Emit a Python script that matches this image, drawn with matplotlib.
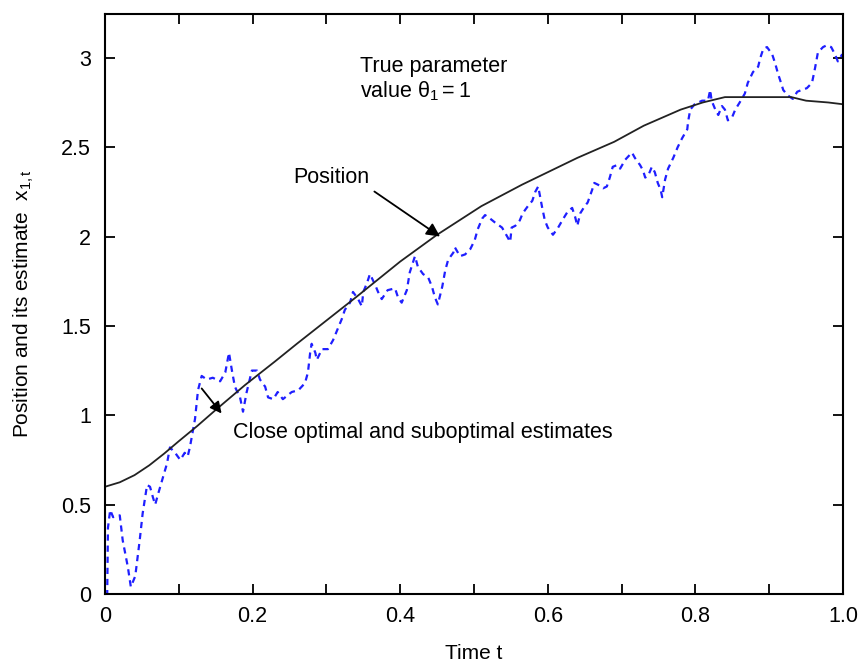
import matplotlib
matplotlib.use("Agg")
import matplotlib.pyplot as plt
from matplotlib import font_manager

# ---- data ----
pos_t = [0, 0.02, 0.04, 0.06, 0.08, 0.10, 0.125, 0.15, 0.19, 0.23, 0.26, 0.30, 0.34,
         0.37, 0.40, 0.45, 0.51, 0.565, 0.60, 0.64, 0.69, 0.73, 0.78, 0.81, 0.84,
         0.93, 0.95, 0.98, 1.0]
pos_x = [0.60, 0.625, 0.665, 0.72, 0.785, 0.855, 0.94, 1.03, 1.17, 1.30, 1.40, 1.53, 1.66,
         1.76, 1.86, 2.01, 2.17, 2.29, 2.36, 2.44, 2.53, 2.62, 2.71, 2.75, 2.78,
         2.78, 2.76, 2.75, 2.74]

est_t = [0, 0.003, 0.004, 0.007, 0.011, 0.020, 0.024, 0.031, 0.035, 0.041, 0.047, 0.051,
         0.057, 0.061, 0.065, 0.068, 0.072, 0.077, 0.084, 0.088, 0.095, 0.102, 0.108, 0.112,
         0.115, 0.122, 0.126, 0.131, 0.138, 0.146, 0.156, 0.163, 0.168, 0.172, 0.176, 0.183,
         0.187, 0.192, 0.199, 0.206, 0.210, 0.217, 0.221, 0.228, 0.234, 0.241, 0.253, 0.262,
         0.271, 0.275, 0.278, 0.280, 0.285, 0.287, 0.294, 0.302, 0.309, 0.316, 0.321, 0.325,
         0.332, 0.336, 0.343, 0.348, 0.350, 0.355, 0.359, 0.366, 0.370, 0.375, 0.383, 0.393,
         0.397, 0.402, 0.409, 0.413, 0.420, 0.424, 0.431, 0.438, 0.443, 0.447, 0.451, 0.457,
         0.461, 0.465, 0.472, 0.474, 0.481, 0.488, 0.495, 0.501, 0.505, 0.511, 0.515, 0.522,
         0.528, 0.538, 0.545, 0.549, 0.551, 0.556, 0.562, 0.566, 0.573, 0.579, 0.583, 0.587,
         0.592, 0.596, 0.600, 0.607, 0.614, 0.621, 0.627, 0.633, 0.637, 0.640, 0.644, 0.650,
         0.654, 0.660, 0.663, 0.668, 0.675, 0.680, 0.684, 0.688, 0.694, 0.698, 0.705, 0.714,
         0.718, 0.725, 0.729, 0.732, 0.736, 0.741, 0.745, 0.749, 0.753, 0.755, 0.759, 0.763,
         0.770, 0.776, 0.782, 0.789, 0.790, 0.793, 0.799, 0.809, 0.817, 0.820, 0.822, 0.827,
         0.831, 0.836, 0.840, 0.844, 0.850, 0.854, 0.860, 0.867, 0.871, 0.878, 0.885, 0.888,
         0.892, 0.897, 0.904, 0.908, 0.912, 0.916, 0.919, 0.925, 0.932, 0.938, 0.944, 0.951,
         0.958, 0.962, 0.966, 0.973, 0.978, 0.984, 0.989, 0.993, 0.999]
est_x = [0.00, 0.00, 0.37, 0.47, 0.43, 0.44, 0.30, 0.15, 0.04, 0.10, 0.30, 0.45,
         0.61, 0.60, 0.54, 0.50, 0.56, 0.63, 0.73, 0.82, 0.79, 0.75, 0.79, 0.77,
         0.82, 0.98, 1.14, 1.22, 1.20, 1.21, 1.19, 1.24, 1.35, 1.25, 1.16, 1.10,
         1.02, 1.13, 1.25, 1.25, 1.20, 1.16, 1.10, 1.09, 1.13, 1.09, 1.13, 1.14,
         1.18, 1.24, 1.35, 1.40, 1.35, 1.31, 1.37, 1.37, 1.42, 1.49, 1.54, 1.59,
         1.63, 1.69, 1.65, 1.61, 1.69, 1.74, 1.79, 1.73, 1.69, 1.65, 1.70, 1.71,
         1.66, 1.63, 1.70, 1.80, 1.89, 1.83, 1.79, 1.77, 1.72, 1.66, 1.62, 1.72,
         1.81, 1.87, 1.91, 1.94, 1.89, 1.90, 1.93, 1.98, 2.04, 2.10, 2.12, 2.10,
         2.08, 2.05, 2.00, 1.97, 2.05, 2.06, 2.09, 2.13, 2.17, 2.20, 2.25, 2.28,
         2.17, 2.09, 2.05, 2.01, 2.05, 2.10, 2.14, 2.16, 2.11, 2.06, 2.13, 2.17,
         2.19, 2.26, 2.30, 2.29, 2.27, 2.28, 2.33, 2.39, 2.40, 2.38, 2.43, 2.47,
         2.44, 2.40, 2.37, 2.33, 2.34, 2.39, 2.36, 2.30, 2.26, 2.22, 2.32, 2.38,
         2.44, 2.50, 2.55, 2.60, 2.64, 2.71, 2.74, 2.76, 2.76, 2.82, 2.76, 2.71,
         2.68, 2.73, 2.71, 2.65, 2.67, 2.71, 2.75, 2.80, 2.86, 2.92, 2.95, 3.00,
         3.05, 3.06, 3.02, 2.97, 2.91, 2.86, 2.82, 2.79, 2.77, 2.81, 2.82, 2.83,
         2.86, 2.94, 3.03, 3.06, 3.07, 3.06, 3.02, 2.98, 3.02]

xticks = [0, 0.1, 0.2, 0.3, 0.4, 0.5, 0.6, 0.7, 0.8, 0.9, 1.0]
xticklabels = ["0", "", "0.2", "", "0.4", "", "0.6", "", "0.8", "", "1.0"]
yticks = [0, 0.5, 1, 1.5, 2, 2.5, 3]
yticklabels = ["0", "0.5", "1", "1.5", "2", "2.5", "3"]

# ---- fonts ----
names = {f.name for f in font_manager.fontManager.ttflist}
base = "Liberation Sans" if "Liberation Sans" in names else "DejaVu Sans"
narrow = "Liberation Sans Narrow" if "Liberation Sans Narrow" in names else base
plt.rcParams["font.family"] = [base, "DejaVu Sans"]
plt.rcParams["mathtext.fontset"] = "custom"
plt.rcParams["mathtext.rm"] = base
plt.rcParams["mathtext.it"] = base
plt.rcParams["mathtext.bf"] = base

fig = plt.figure(figsize=(8.59, 6.66), dpi=100)
ax = fig.add_axes([105 / 859, 1 - 594 / 666, 738 / 859, 580 / 666])

ax.plot(est_t, est_x, color="#1f1fff", lw=1.6, ls=(0, (2.8, 2.2)))
ax.plot(pos_t, pos_x, color="#222222", lw=1.3)

ax.set_xlim(0, 1.0)
ax.set_ylim(0, 3.245)
ax.set_xticks(xticks)
ax.set_xticklabels(xticklabels, fontsize=15.5, family=narrow)
ax.set_yticks(yticks)
ax.set_yticklabels(yticklabels, fontsize=15.5)
ax.tick_params(direction="in", length=7, width=1.3, top=True, right=True)
ax.tick_params(axis="x", pad=9)
ax.tick_params(axis="y", pad=10)
for s in ax.spines.values():
    s.set_linewidth(1.5)

ax.set_xlabel("Time t", fontsize=15, family=narrow, labelpad=12)
ax.set_ylabel(r"Position and its estimate  $x_{1,t}$", fontsize=15, labelpad=18)

ax.text(0.346, 2.95, "True parameter", fontsize=15.5, ha="left", va="center")
ax.text(0.346, 2.815, r"value $\theta_1 = 1$", fontsize=15.5, ha="left", va="center")

ax.annotate("Position", xy=(0.454, 2.0), xytext=(0.255, 2.33), fontsize=15.5,
            ha="left", va="center",
            arrowprops=dict(arrowstyle="-|>", color="black", lw=1.3,
                            mutation_scale=20, shrinkA=2, shrinkB=0,
                            relpos=(1.0, 0.0)))
ax.annotate("", xy=(0.158, 1.01), xytext=(0.131, 1.15),
            arrowprops=dict(arrowstyle="-|>", color="black", lw=1.3,
                            mutation_scale=17, shrinkA=0, shrinkB=0))
ax.text(0.173, 0.905, "Close optimal and suboptimal estimates", fontsize=15.5,
        ha="left", va="center")

fig.savefig("out.png", dpi=100)
